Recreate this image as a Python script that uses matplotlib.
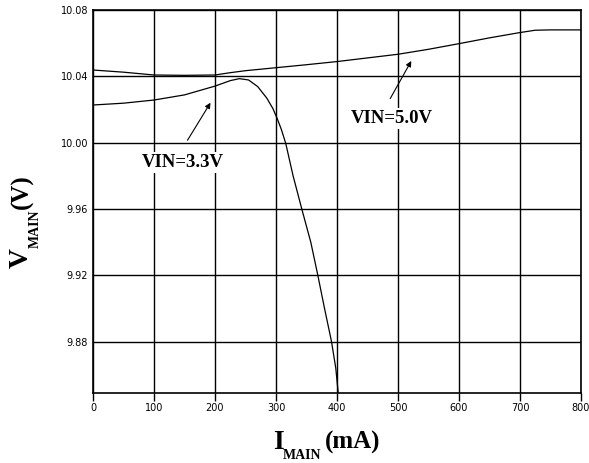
import matplotlib
matplotlib.use("Agg")
import matplotlib.pyplot as plt

# VIN = 5.0 V curve
i_5v0 = [0, 50, 100, 150, 200, 225, 250, 300, 350, 400, 450, 500, 550, 600, 650, 700, 725, 750, 800]
v_5v0 = [10.0438, 10.0425, 10.0408, 10.0406, 10.0408, 10.0422, 10.0434, 10.0452, 10.047, 10.0489,
         10.0511, 10.0533, 10.0563, 10.0597, 10.0632, 10.0664, 10.0678, 10.068, 10.068]

# VIN = 3.3 V curve
i_3v3 = [0, 50, 100, 150, 200, 225, 240, 255, 270, 285, 295, 302, 309, 316, 328, 343, 357, 368,
         379, 391, 398, 402]
v_3v3 = [10.0227, 10.0238, 10.0257, 10.0288, 10.0341, 10.0374, 10.0386, 10.0378, 10.0338, 10.0268,
         10.0205, 10.0145, 10.0077, 9.9995, 9.98, 9.959, 9.94, 9.921, 9.901, 9.88, 9.864, 9.849]

x_ticks = [0, 100, 200, 300, 400, 500, 600, 700, 800]
y_ticks = [9.88, 9.92, 9.96, 10.00, 10.04, 10.08]

W, H = 589, 463
fig = plt.figure(figsize=(W / 100, H / 100), dpi=100)
ax = fig.add_axes([93 / W, (H - 393) / H, (581 - 93) / W, (393 - 10) / H])

ax.plot(i_5v0, v_5v0, color="black", lw=0.9, zorder=3)
ax.plot(i_3v3, v_3v3, color="black", lw=0.9, zorder=3)

ax.set_xlim(0, 800)
ax.set_ylim(9.849, 10.08)
ax.set_xticks(x_ticks)
ax.set_yticks(y_ticks)
ax.set_yticklabels([f"{v:.2f}" for v in y_ticks])
ax.tick_params(axis="x", direction="out", length=6, width=1.0, pad=1, labelsize=7)
ax.tick_params(axis="y", length=0, pad=3.6, labelsize=7)
ax.grid(True, color="black", lw=1.0, zorder=1)
ax.set_axisbelow(True)
for sp in ax.spines.values():
    sp.set_linewidth(1.2)

# labels with arrows
txt_font = dict(family="Liberation Serif", fontweight="bold", fontsize=13.5)
box = dict(facecolor="white", edgecolor="none", pad=1.5)
ax.annotate("", xy=(195, 10.0255), xytext=(152.5, 10.0),
            arrowprops=dict(arrowstyle="-|>", lw=0.8, color="black", mutation_scale=8), zorder=4)
ax.text(147.5, 9.9879, "VIN=3.3V", ha="center", va="center", bbox=box, zorder=5, **txt_font)
ax.annotate("", xy=(524, 10.0507), xytext=(485, 10.0251),
            arrowprops=dict(arrowstyle="-|>", lw=0.8, color="black", mutation_scale=8), zorder=4)
ax.text(489.7, 10.0147, "VIN=5.0V", ha="center", va="center", bbox=box, zorder=5, **txt_font)


# axis titles built from pieces (big letter, small subscript, unit)
def place_label(parts, x0, y0, rotate):
    renderer = fig.canvas.get_renderer()
    pos = 0
    for s, size, shift, gap in parts:
        pos += gap
        if rotate:
            x, y = x0 + shift, y0 + pos
        else:
            x, y = x0 + pos, y0 - shift
        t = fig.text(x / W, y / H, s, fontsize=size, fontweight="bold",
                     family="Liberation Serif", rotation=90 if rotate else 0,
                     rotation_mode="anchor", ha="left", va="baseline")
        bb = t.get_window_extent(renderer)
        pos += bb.height if rotate else bb.width


place_label([("I", 20, 0, 0), ("MAIN", 10, 10, -1), ("(mA)", 18, 0, 4)], 273, 14, False)
place_label([("V", 20, 0, 0), ("MAIN", 10, 11, 0), ("(V)", 18, 0, 1)], 28, 195, True)

fig.savefig("out.png", dpi=100)
